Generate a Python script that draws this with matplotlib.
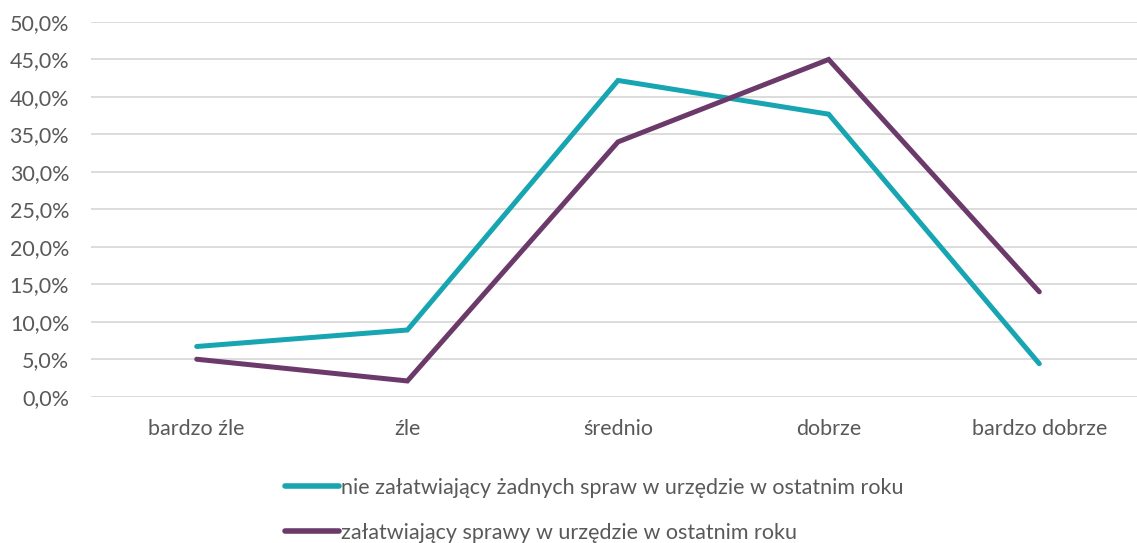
import matplotlib
matplotlib.use("Agg")
import matplotlib.pyplot as plt
from matplotlib.ticker import FuncFormatter

categories = ["bardzo źle", "źle", "średnio", "dobrze", "bardzo dobrze"]
series_names = ["nie załatwiający żadnych spraw w urzędzie w ostatnim roku",
                "załatwiający sprawy w urzędzie w ostatnim roku"]
nie_zalatwiajacy = [6.7, 8.9, 42.2, 37.7, 4.4]
zalatwiajacy = [5.0, 2.1, 34.0, 45.0, 14.0]
colors = ["#17A6B1", "#6B3A6B"]
y_ticks = [0, 5, 10, 15, 20, 25, 30, 35, 40, 45, 50]

plt.rcParams['font.family'] = ['Lato', 'DejaVu Sans']
text_color = "#595959"
fs = 15.5

W, H = 1137, 543
fig = plt.figure(figsize=(W / 100, H / 100), dpi=100)
left = 91.4 / W
right = 1144.6 / W
bottom = 1 - 396.7 / H
top = 1 - 22 / H
ax = fig.add_axes([left, bottom, right - left, top - bottom])

x = list(range(len(categories)))
for vals, c, name in zip([nie_zalatwiajacy, zalatwiajacy], colors, series_names):
    ax.plot(x, vals, color=c, lw=3.6, solid_capstyle='round', solid_joinstyle='miter', label=name, zorder=3)

ax.set_xlim(-0.5, len(categories) - 0.5)
ax.set_ylim(0, 50)
ax.set_yticks(y_ticks)
ax.yaxis.set_major_formatter(FuncFormatter(lambda v, p: f"{v:.1f}%".replace(".", ",")))
ax.set_xticks(x)
ax.set_xticklabels(categories)
ax.grid(axis='y', color="#D9D9D9", lw=1.3, zorder=0)
ax.set_axisbelow(True)
for s in ax.spines.values():
    s.set_visible(False)
ax.tick_params(axis='both', length=0, colors=text_color, labelsize=fs)
ax.tick_params(axis='y', pad=16)
ax.tick_params(axis='x', pad=16)

leg = fig.legend(loc='upper left', bbox_to_anchor=(274 / W, 1 - 467 / H), frameon=False,
                 handlelength=2.5, handletextpad=0.1, labelspacing=1.15, fontsize=fs,
                 labelcolor=text_color, borderpad=0)
for line in leg.get_lines():
    line.set_linewidth(4.0)
    line.set_solid_capstyle('round')

fig.savefig("out.png", dpi=100)
